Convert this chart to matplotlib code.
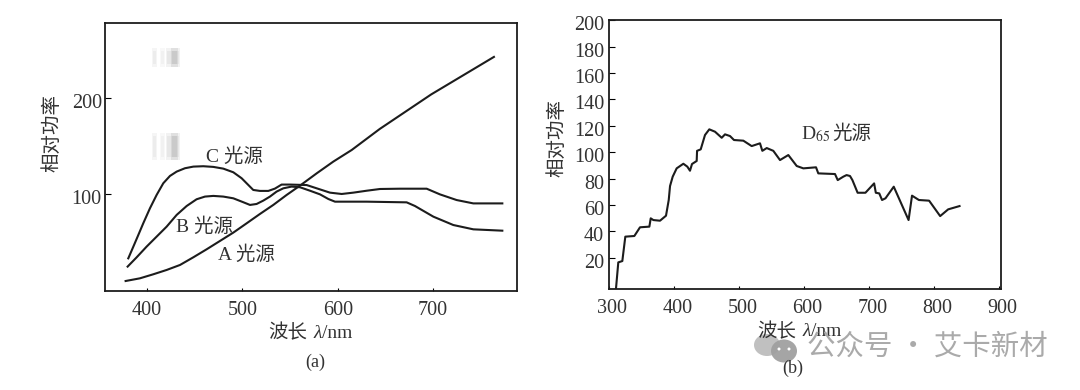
import matplotlib
matplotlib.use('Agg')
import matplotlib.pyplot as plt
from matplotlib.patches import Ellipse, Rectangle
from matplotlib.transforms import ScaledTranslation

plt.rcParams['font.family'] = ['Liberation Serif', 'Noto Sans CJK SC']
plt.rcParams['mathtext.fontset'] = 'stix'

W = 1080
H = 390

a_x = [377.6, 392.6, 406.6, 420.6, 434.6, 448.6, 462.5, 476.5, 490.5, 504.5, 518.4, 532.4, 546.4, 560.4,
       577.9, 595.3, 614.6, 644, 698, 763.7]
a_y = [9.7, 12.5, 16.7, 21.2, 26.4, 34.4, 42.7, 51.4, 60.1, 69.8, 79.5, 88.9, 99.3, 109,
       121.8, 134, 146.1, 168, 204, 243]

b_x = [379.7, 389.2, 399.6, 410.1, 420.6, 431.1, 441.6, 452, 460.8, 469.5, 480, 490.5, 501, 508, 514.9,
       521.9, 528.9, 535.9, 542.9, 551.6, 560.4, 570.9, 581.4, 590.1, 597.1, 630.3, 672.2, 680.9, 700.2,
       721.1, 742.1, 772.5]
b_y = [24.7, 34.4, 45.5, 55.9, 66.3, 78.5, 87.8, 94.8, 97.6, 98.3, 97.6, 95.8, 91.7, 88.9, 89.9,
       93.4, 97.6, 102.8, 106.2, 108, 107.3, 103.7, 99.9, 95.1, 92.3, 92.3, 91.6, 87.8, 76.7,
       68, 63.5, 62.1]

c_x = [380.4, 385.7, 390.9, 396.1, 403.1, 410.1, 417.1, 424.1, 431.1, 439.8, 448.6, 459, 469.5, 480, 490.5,
       499.2, 506.2, 511.4, 518.4, 527.2, 534.1, 541.1, 549.9, 567.4, 577.9, 591.8, 604.1, 616.3, 630.3,
       644.3, 665.2, 693.2, 707.1, 724.6, 742.1, 772.5]
c_y = [33.3, 45.5, 57.6, 69.8, 85.4, 99.3, 111.5, 119.1, 123.6, 127.1, 128.8, 129.2, 128.5, 126.7, 122.9,
       116.7, 109.7, 104.5, 103.5, 103.5, 105.9, 110.1, 110.1, 109.6, 106.2, 101.7, 100.3, 101.7, 103.7,
       105.5, 105.8, 105.8, 99.9, 94, 90.5, 90.5]

d65_x = [310.3, 313.8, 320, 324.6, 338.5, 347.2, 361.6, 363.7, 367.7, 378, 387.2, 391.4, 393.4, 397.5,
         403.6, 413.9, 420, 424.1, 427.2, 434.4, 435, 440.6, 447.2, 453.8, 462.6, 472.9, 478, 485.7,
         491.8, 506.2, 519, 531.8, 535.4, 542.2, 552.3, 562.6, 575.4, 588.3, 598.5, 618, 621.5, 647.2,
         651.4, 660, 665, 670.3, 674, 682, 694, 707.4, 710, 715.3, 719.6, 724.9, 737.6, 760.4, 765.7,
         776.3, 792, 809, 821.3, 838.8]
d65_y = [-3.2, 16.4, 17.4, 35.9, 36.4, 43, 43.5, 49.8, 48.5, 48, 51.8, 63.7, 74.3, 81.4,
         87.7, 91.2, 89, 85.9, 91, 93.3, 101, 102.1, 113, 117.3, 115.5, 110.9, 113.5, 112.2,
         109.2, 108.7, 104.6, 106.7, 101, 103.1, 101, 94, 97.8, 89.5, 87.7, 88.5, 83.9, 83.4,
         78.8, 81.4, 82.6, 81.9, 78.8, 69.2, 69.2, 76.3, 69.2, 68.7, 63.7, 65, 73.8, 48.5, 67,
         63.7, 63.2, 51.5, 56.6, 59.1]

a_xticks = [400, 500, 600, 700]
a_yticks = [100, 200]
b_xticks = [300, 400, 500, 600, 700, 800, 900]
b_yticks = [20, 40, 60, 80, 100, 120, 140, 160, 180, 200]

INK = '#1c1c1c'
LABEL = '#333333'


def axes_at(fig, left, top, right, bottom):
    return fig.add_axes([left / W, 1 - bottom / H, (right - left) / W, (bottom - top) / H])


def ptext(x, y, s, size=14, **kw):
    # x, y in image pixels
    fig.text(x / W, 1 - y / H, s, fontsize=size, color=kw.pop('color', LABEL), ha=kw.pop('ha', 'center'),
             va=kw.pop('va', 'center'), **kw)


def style(ax, ypad, xshift):
    for sp in ax.spines.values():
        sp.set_linewidth(1.3)
        sp.set_color(INK)
    ax.tick_params(axis='x', direction='in', length=2.5, width=0.8, labelsize=14.5, labelcolor=LABEL, pad=7)
    ax.tick_params(axis='y', direction='in', length=4, width=0.8, labelsize=14.5, labelcolor=LABEL, pad=ypad)
    down = ScaledTranslation(0, -3 / 100, fig.dpi_scale_trans)
    right = ScaledTranslation(xshift / 100, 0, fig.dpi_scale_trans)
    for lab in ax.get_yticklabels():
        lab.set_transform(lab.get_transform() + down)
    for lab in ax.get_xticklabels():
        lab.set_transform(lab.get_transform() + right)


def xlabel_parts(x0, x1, x2, y):
    # separate pieces since mathtext would drop the CJK fallback
    ptext(x0, y, '波长', ha='left')
    ptext(x1, y, 'λ', ha='left', style='italic')
    ptext(x2, y, '/nm', ha='left')


fig = plt.figure(figsize=(W / 100, H / 100), dpi=100)

ax1 = axes_at(fig, 105.3, 23.3, 517.3, 291)
for xs, ys in [(a_x, a_y), (b_x, b_y), (c_x, c_y)]:
    ax1.plot(xs, ys, color=INK, lw=1.5, solid_joinstyle='round')
ax1.set_xlim(356.3, 788.2)
ax1.set_ylim(-0.7, 278)
ax1.set_xticks(a_xticks)
ax1.set_yticks(a_yticks)
style(ax1, 2.5, 0)

ax2 = axes_at(fig, 609, 20.3, 1001, 289)
ax2.plot(d65_x, d65_y, color=INK, lw=1.5, solid_joinstyle='round')
ax2.set_xlim(299.5, 902.6)
ax2.set_ylim(-3.8, 200)
ax2.set_xticks(b_xticks)
ax2.set_yticks(b_yticks)
style(ax2, 3.5, 3)

ptext(234, 157, 'C 光源')
ptext(205, 227, 'B 光源')
ptext(246, 255, 'A 光源')
ptext(52, 133, '相对功率', rotation=90)
xlabel_parts(268, 313, 322, 333)
ptext(315, 362, '(a)', size=13)

ptext(801, 134, 'D$_{65}$', ha='left')
ptext(871, 134, '光源', ha='right')
ptext(557, 138, '相对功率', rotation=90)
xlabel_parts(757, 802, 811, 332)
ptext(793, 368, '(b)', size=13)

# overlay in image pixels for the scan smudges and the watermark
overlay = fig.add_axes([0, 0, 1, 1], facecolor='none')
overlay.set_xlim(0, W)
overlay.set_ylim(H, 0)
overlay.axis('off')
for top, height in [(48, 19), (133, 27)]:
    for sx, sw, a in [(152, 5, 0.08), (160, 5, 0.06), (166, 14, 0.1), (171, 7, 0.16)]:
        overlay.add_patch(Rectangle((sx, top), sw, height, color='#888888', alpha=a, lw=0))
        overlay.add_patch(Rectangle((sx + 1, top + 3), sw - 2, height - 6, color='#888888', alpha=a, lw=0))
overlay.add_patch(Ellipse((767, 345), 26, 22, color='#b5b5b5', alpha=0.85, lw=0))
overlay.add_patch(Ellipse((784, 351), 26, 23, color='#a0a0a0', alpha=0.95, lw=0))
overlay.add_patch(Ellipse((779, 349), 3, 3, color='white', lw=0))
overlay.add_patch(Ellipse((789, 349), 3, 3, color='white', lw=0))
ptext(807, 347, '公众号 · 艾卡新材', size=20.5, color='#aaaaaa', ha='left', family=['Noto Sans CJK SC'])

fig.savefig('out.png', dpi=100)
